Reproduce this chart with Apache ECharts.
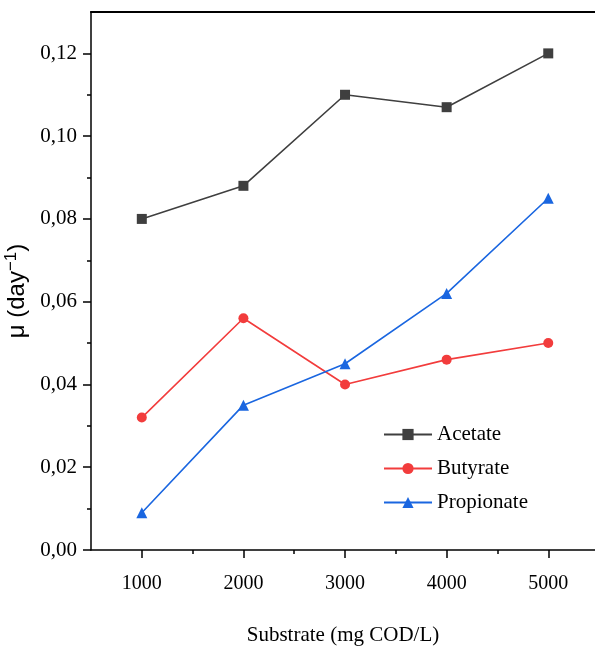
<!DOCTYPE html>
<html>
<head>
<meta charset="utf-8">
<script src="https://cdn.jsdelivr.net/npm/echarts@6/dist/echarts.min.js"></script>
<style>html,body{margin:0;padding:0;background:#fff}#c{width:595px;height:646px}</style>
</head>
<body>
<div id="c"></div>
<script>
const categories = [1000, 2000, 3000, 4000, 5000];
const acetate = [0.080, 0.088, 0.110, 0.107, 0.120];
const butyrate = [0.032, 0.056, 0.040, 0.046, 0.050];
const propionate = [0.009, 0.035, 0.045, 0.062, 0.085];
const xMajorTicks = [1000, 2000, 3000, 4000, 5000];
const xMinorTicks = [1500, 2500, 3500, 4500];
const yMajorTicks = [0, 0.02, 0.04, 0.06, 0.08, 0.10, 0.12];
const yMinorTicks = [0.01, 0.03, 0.05, 0.07, 0.09, 0.11];

const serif = '"Liberation Serif", "Times New Roman", serif';
const sans = '"Liberation Sans", Arial, sans-serif';
const chart = echarts.init(document.getElementById('c'));
const pair = arr => categories.map((c, i) => [c, arr[i]]);

const baseX = {type: 'value', min: 500, max: 5460, gridIndex: 0, position: 'bottom'};
const baseY = {type: 'value', min: 0, max: 0.13, gridIndex: 0, position: 'left'};

chart.setOption({
  animation: false,
  backgroundColor: '#fff',
  grid: {left: 91, right: 0, top: 12, bottom: 96, show: false, outerBoundsMode: 'none', containLabel: false},
  legend: {
    orient: 'vertical', left: 378, top: 419, itemWidth: 48, itemHeight: 14, itemGap: 13,
    textStyle: {fontFamily: serif, fontSize: 21, color: '#000'},
    data: ['Acetate', 'Butyrate', 'Propionate']
  },
  xAxis: [
    Object.assign({}, baseX, {
      name: 'Substrate (mg COD/L)', nameLocation: 'middle', nameGap: 75,
      nameTextStyle: {fontFamily: serif, fontSize: 21, color: '#000'},
      axisLine: {show: true, lineStyle: {color: '#000', width: 1.5}},
      axisTick: {show: true, inside: false, length: 8, customValues: xMajorTicks, lineStyle: {color: '#000', width: 1.5}},
      axisLabel: {show: true, customValues: xMajorTicks, margin: 24, fontFamily: serif, fontSize: 20, color: '#000',
        formatter: v => String(v)},
      splitLine: {show: false}
    }),
    Object.assign({}, baseX, {
      axisLine: {show: false},
      axisTick: {show: true, length: 4, customValues: xMinorTicks, lineStyle: {color: '#000', width: 1.5}},
      axisLabel: {show: false},
      splitLine: {show: false}
    }),
    Object.assign({}, baseX, {
      position: 'top',
      axisLine: {show: true, onZero: false, lineStyle: {color: '#000', width: 2.2}},
      axisTick: {show: false},
      axisLabel: {show: false},
      splitLine: {show: false}
    })
  ],
  yAxis: [
    Object.assign({}, baseY, {
      name: 'μ (day{sup|−1})', nameLocation: 'middle', nameGap: 52, nameRotate: 90,
      nameTextStyle: {fontFamily: sans, fontSize: 24, color: '#000', padding: [0, 20, 0, 0],
        rich: {sup: {fontFamily: sans, fontSize: 17, color: '#000', verticalAlign: 'top', padding: [0,0,12,0]}}},
      axisLine: {show: true, lineStyle: {color: '#000', width: 1.5}},
      axisTick: {show: true, length: 8, customValues: yMajorTicks, lineStyle: {color: '#000', width: 1.5}},
      axisLabel: {show: true, customValues: yMajorTicks, margin: 14, fontFamily: serif, fontSize: 21, color: '#000',
        formatter: v => v.toFixed(2).replace('.', ',')},
      splitLine: {show: false}
    }),
    Object.assign({}, baseY, {
      axisLine: {show: false},
      axisTick: {show: true, length: 4, customValues: yMinorTicks, lineStyle: {color: '#000', width: 1.5}},
      axisLabel: {show: false},
      splitLine: {show: false}
    })
  ],
  series: [
    {name: 'Acetate', type: 'line', data: pair(acetate), symbol: 'rect', symbolSize: 10,
      itemStyle: {color: '#3f3f3f'}, lineStyle: {color: '#3f3f3f', width: 1.6}},
    {name: 'Butyrate', type: 'line', data: pair(butyrate), symbol: 'circle', symbolSize: 10,
      itemStyle: {color: '#f23c3c'}, lineStyle: {color: '#f23c3c', width: 1.6}},
    {name: 'Propionate', type: 'line', data: pair(propionate), symbol: 'triangle', symbolSize: 11,
      itemStyle: {color: '#1a66e0'}, lineStyle: {color: '#1a66e0', width: 1.6}}
  ]
});
</script>
</body>
</html>
